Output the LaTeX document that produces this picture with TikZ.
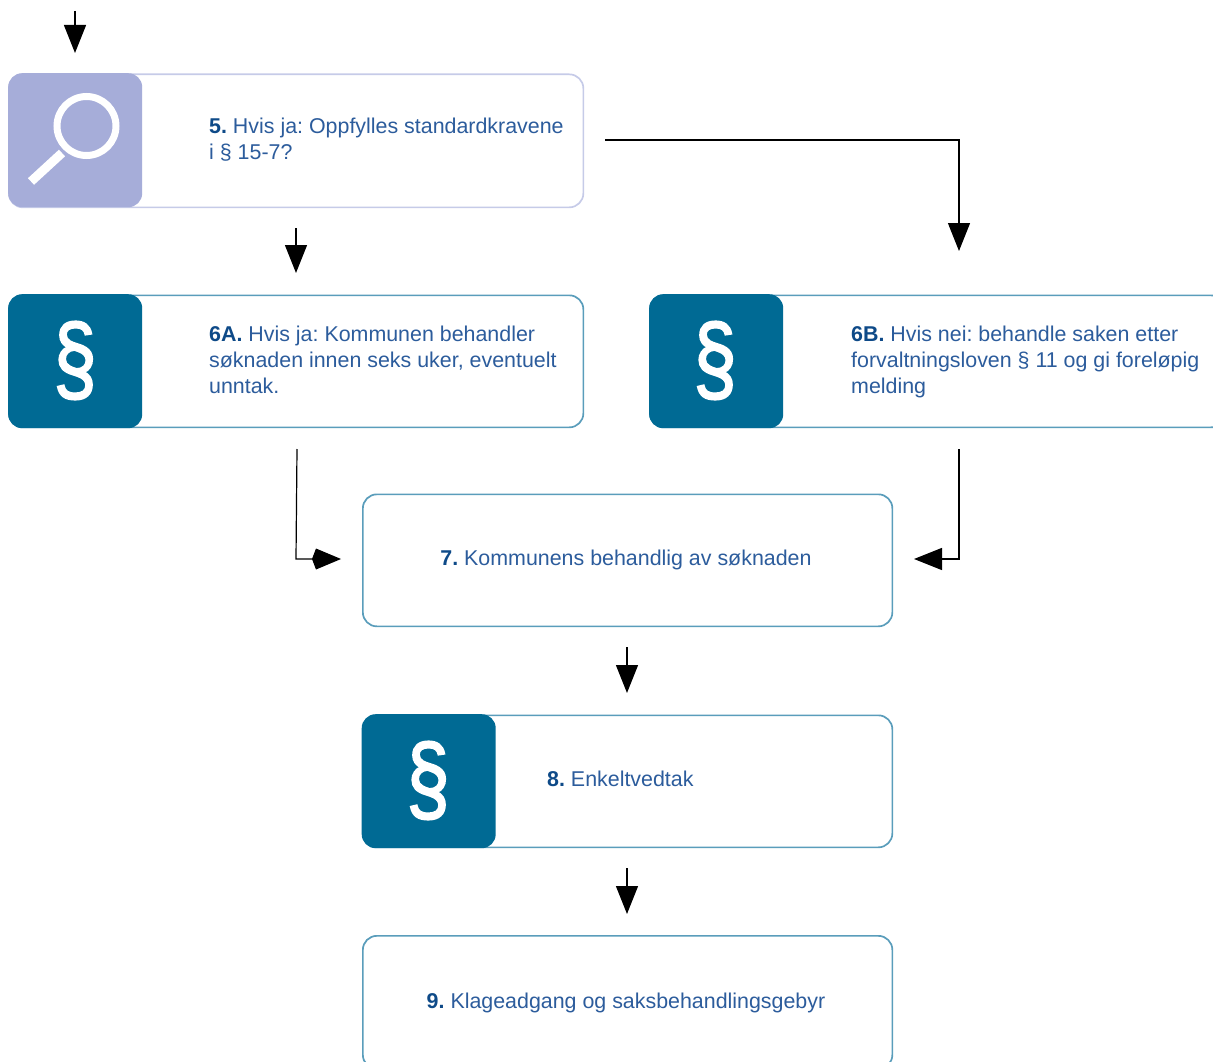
\documentclass[tikz,border=0pt]{standalone}
\usepackage{fontspec}
\setmainfont{Liberation Sans}
\newfontfamily\sectfont[RawFeature={embolden=2}]{Liberation Sans}
\usetikzlibrary{arrows.meta}
\definecolor{tealline}{HTML}{5A9DBB}
\definecolor{lilacline}{HTML}{C6CBE8}
\definecolor{iconblue}{HTML}{006A94}
\definecolor{iconlilac}{HTML}{A6ADD9}
\definecolor{bodytext}{HTML}{2C5C9C}
\definecolor{numtext}{HTML}{0E4A88}
\newcommand{\stepnum}[1]{\textcolor{numtext}{\textbf{#1}}}
\tikzset{
  x=1pt,y=-1pt,
  boxbase/.style={rectangle,rounded corners=14pt,line width=1.7pt,fill=white,anchor=north west,inner sep=0pt},
  tealbox/.style={boxbase,draw=tealline},
  lilacbox/.style={boxbase,draw=lilacline},
  iconbox/.style={rectangle,rounded corners=14pt,anchor=north west,inner sep=0pt,minimum width=134pt,minimum height=134pt},
  paragraph/.style={font=\fontsize{21.4pt}{26pt}\selectfont\frenchspacing,text=bodytext,align=left,anchor=west,inner sep=0pt},
  centred/.style={font=\fontsize{21.4pt}{26pt}\selectfont\frenchspacing,text=bodytext,align=center,anchor=center,inner sep=0pt},
  sect/.style={font=\sectfont\fontsize{78pt}{78pt}\selectfont,text=white,inner sep=0pt,anchor=center,yscale=1.24,transform shape},
  flow/.style={draw=black,line width=1.2pt,-{Triangle[length=28pt,width=22pt]}},
  flowkite/.style={draw=black,line width=1.2pt,-{Kite[length=29pt,width=21pt,inset=4pt]}},
}
\begin{document}
\begin{tikzpicture}
\useasboundingbox (0,0) rectangle (1213,1062);
\clip (0,0) rectangle (1213,1062);

% boxes
\node[lilacbox,minimum width=574.5pt,minimum height=133pt] (b5) at (8,73.5) {};
\node[iconbox,fill=iconlilac] (i5) at (8,73) {};
\node[tealbox,minimum width=574.5pt,minimum height=132pt] (b6a) at (8,294.5) {};
\node[iconbox,fill=iconblue] (i6a) at (8,294) {};
\node[tealbox,minimum width=575pt,minimum height=132pt] (b6b) at (649,294.5) {};
\node[iconbox,fill=iconblue] (i6b) at (649,294) {};
\node[tealbox,minimum width=529.5pt,minimum height=132pt] (b7) at (362,493.5) {};
\node[tealbox,minimum width=529.5pt,minimum height=132pt] (b8) at (362,714.5) {};
\node[iconbox,fill=iconblue] (i8) at (361.5,714) {};
\node[tealbox,minimum width=529.5pt,minimum height=133pt] (b9) at (362,935) {};

% icons
\draw[white,line width=7pt] (86.5,126) circle (29.5);
\draw[white,line width=9pt] (62,153) -- (31,181.5);
\node[sect] (s6a) at (75,360.5) {§};
\node[sect] (s6b) at (715,360.5) {§};
\node[sect] (s8) at (428,780.5) {§};

% texts
\node[paragraph] (t5) at (209,140) {\stepnum{5.} Hvis ja: Oppfylles standardkravene\\i § 15-7?};
\node[paragraph] (t6a) at (209,360) {\stepnum{6A.} Hvis ja: Kommunen behandler\\søknaden innen seks uker, eventuelt\\unntak.};
\node[paragraph] (t6b) at (851,362) {\stepnum{6B.} Hvis nei: behandle saken etter\\forvaltningsloven § 11 og gi foreløpig\\melding};
\node[centred] (t7) at (626,560) {\stepnum{7.} Kommunens behandlig av søknaden};
\node[paragraph] (t8) at (547,779) {\stepnum{8.} Enkeltvedtak};
\node[centred] (t9) at (626,1003) {\stepnum{9.} Klageadgang og saksbehandlingsgebyr};

% free ends
\coordinate (a0s) at (75,11);   \coordinate (a0e) at (75,53);
\coordinate (a1s) at (296,228); \coordinate (a1e) at (296,273);
\coordinate (a2s) at (605,140); \coordinate (a2c) at (959,140); \coordinate (a2e) at (959,251);
\coordinate (a3s) at (297,449); \coordinate (a3c) at (296,559); \coordinate (a3e) at (341,559);
\coordinate (a4s) at (959,449); \coordinate (a4c) at (959,559); \coordinate (a4e) at (914,559);
\coordinate (a5s) at (627,647); \coordinate (a5e) at (627,693);
\coordinate (a6s) at (627,868); \coordinate (a6e) at (627,914);

% connectors
\draw[flow] (a0s) -- (a0e);
\draw[flow] (a1s) -- (a1e);
\draw[flow] (a2s) -- (a2c) -- (a2e);
\draw[flowkite] (a3s) -- (a3c) -- (a3e);
\draw[flow] (a4s) -- (a4c) -- (a4e);
\draw[flow] (a5s) -- (a5e);
\draw[flow] (a6s) -- (a6e);
\end{tikzpicture}
\end{document}
